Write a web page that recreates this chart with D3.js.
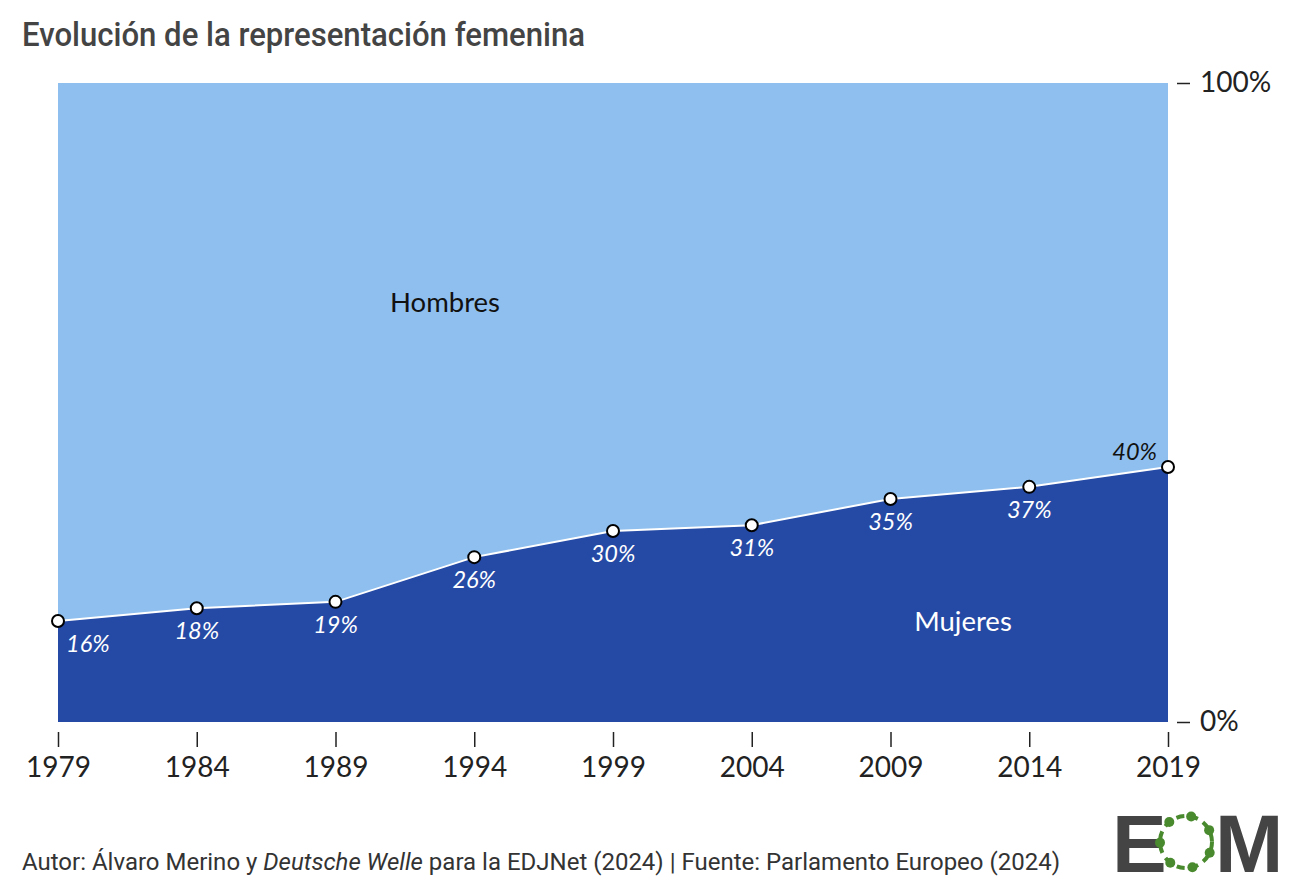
<!DOCTYPE html>
<html><head><meta charset="utf-8">
<script src="https://cdn.jsdelivr.net/npm/d3@7"></script>
<style>
body{margin:0;background:#fff;}
svg{display:block;}
</style></head>
<body>
<svg id="c" width="1300" height="892"></svg>
<script>
const years = [1979,1984,1989,1994,1999,2004,2009,2014,2019];
const women = [15.8,17.8,18.8,25.8,29.9,30.8,34.9,36.8,39.9];
const labels = ["16%","18%","19%","26%","30%","31%","35%","37%","40%"];
const yTicks = [0,100];

const svg = d3.select("#c");
const m = {l:58, r:1168, t:83, b:722};
const x = d3.scaleLinear().domain([1979,2019]).range([m.l,m.r]);
const y = d3.scaleLinear().domain([0,100]).range([m.b,m.t]);
const data = years.map((yr,i)=>({yr, v:women[i], lab:labels[i]}));

svg.append("text").attr("x",22).attr("y",46)
  .attr("font-family","Roboto,sans-serif")
  .attr("font-size",34).attr("font-weight",500).attr("fill","#444")
  .attr("textLength",563).attr("lengthAdjust","spacingAndGlyphs")
  .text("Evolución de la representación femenina");

svg.append("path").datum(data)
  .attr("d", d3.area().x(d=>x(d.yr)).y0(d=>y(d.v)).y1(()=>y(100)))
  .attr("fill","#8fbfee");
svg.append("path").datum(data)
  .attr("d", d3.area().x(d=>x(d.yr)).y0(()=>y(0)).y1(d=>y(d.v)))
  .attr("fill","#254aa5");
svg.append("path").datum(data)
  .attr("d", d3.line().x(d=>x(d.yr)).y(d=>y(d.v)))
  .attr("fill","none").attr("stroke","#fff").attr("stroke-width",2);

svg.selectAll("circle.p").data(data).enter().append("circle")
  .attr("cx",d=>x(d.yr)).attr("cy",d=>y(d.v)).attr("r",6)
  .attr("fill","#fff").attr("stroke","#000").attr("stroke-width",2);

svg.selectAll("text.lab").data(data).enter().append("text")
  .attr("x",(d,i)=> i===0 ? x(d.yr)+8 : (i===data.length-1 ? x(d.yr)-11 : x(d.yr)))
  .attr("y",(d,i)=> i===data.length-1 ? y(d.v)-7 : y(d.v)+31)
  .attr("text-anchor",(d,i)=> i===0 ? "start" : (i===data.length-1 ? "end":"middle"))
  .attr("font-family","Lato,sans-serif").attr("font-style","italic")
  .attr("font-size",23.5)
  .attr("fill",(d,i)=> i===data.length-1 ? "#111" : "#fff")
  .text(d=>d.lab);

svg.append("text").attr("x",445).attr("y",312).attr("text-anchor","middle")
  .attr("font-family","Lato,sans-serif").attr("font-size",27.5).attr("fill","#111").text("Hombres");
svg.append("text").attr("x",963).attr("y",631).attr("text-anchor","middle")
  .attr("font-family","Lato,sans-serif").attr("font-size",27.5).attr("fill","#fff").text("Mujeres");

const xa = svg.append("g").attr("transform",`translate(0,${m.b+10})`)
  .call(d3.axisBottom(x).tickValues(years).tickFormat(d3.format("d")).tickSize(15).tickPadding(10));
xa.select(".domain").remove();
xa.selectAll("line").attr("stroke","#222").attr("stroke-width",1.5);
xa.selectAll("text").attr("font-family","Lato,sans-serif").attr("font-size",28).attr("fill","#222");

const ya = svg.append("g").attr("transform",`translate(${m.r+9},0)`)
  .call(d3.axisRight(y).tickValues(yTicks).tickFormat(d=>d+"%").tickSize(13).tickPadding(10));
ya.select(".domain").remove();
ya.selectAll("line").attr("stroke","#222").attr("stroke-width",1.5);
ya.selectAll("text").attr("font-family","Lato,sans-serif").attr("font-size",28).attr("fill","#222");

const ft = svg.append("text").attr("x",22).attr("y",870)
  .attr("font-family","Roboto,sans-serif")
  .attr("font-size",23).attr("fill","#333")
  .attr("textLength",1038).attr("lengthAdjust","spacingAndGlyphs");
ft.append("tspan").text("Autor: Álvaro Merino y ");
ft.append("tspan").attr("font-style","italic").text("Deutsche Welle");
ft.append("tspan").text(" para la EDJNet (2024) | Fuente: Parlamento Europeo (2024)");

const lg = svg.append("g");
lg.append("text").attr("x",1112).attr("y",872).attr("font-family","'Liberation Sans','Arial',sans-serif")
  .attr("font-weight",700).attr("font-size",82).attr("fill","#444").text("E");
lg.append("text").attr("x",1215).attr("y",872).attr("font-family","'Liberation Sans','Arial',sans-serif")
  .attr("font-weight",700).attr("font-size",82).attr("fill","#444").text("M");
const cx=1186, cy=842, rr=26;
lg.append("circle").attr("cx",cx).attr("cy",cy).attr("r",rr).attr("fill","#fff")
  .attr("stroke","#4a8a2e").attr("stroke-width",4).attr("stroke-dasharray","8 6");
d3.range(7).forEach(k=>{
  const a = -Math.PI/2 + k*2*Math.PI/7 + 0.2;
  lg.append("circle").attr("cx",cx+rr*Math.cos(a)).attr("cy",cy+rr*Math.sin(a)).attr("r",5).attr("fill","#4a8a2e");
});
</script>
</body></html>
